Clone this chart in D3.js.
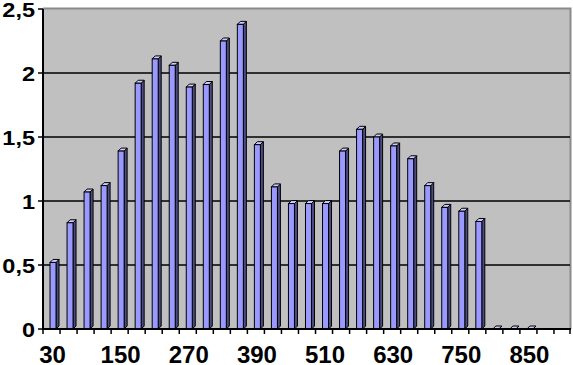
<!DOCTYPE html>
<script src="https://d3js.org/d3.v7.min.js"></script>
<style>
  body { margin: 0; background: #fff; }
  svg { display: block; }
</style>
<svg></svg>
<script>

    var width = 573;
    var height = 365;
    var margin = ({top: 9, right: 2, bottom: 36, left: 43});

    // category labels (x values) and bar heights
    var categories = ["30","60","90","120","150","180","210","240","270","300","330","360","390",
                      "420","450","480","510","540","570","600","630","660","690","720","750","780",
                      "800","825","850","875","900"];
    var values = [0.52, 0.83, 1.07, 1.12, 1.39, 1.92, 2.11, 2.06, 1.89, 1.91, 2.25, 2.38, 1.44,
                  1.11, 0.98, 0.98, 0.98, 1.39, 1.56, 1.50, 1.43, 1.33, 1.12, 0.95, 0.92, 0.84,
                  0, 0, 0, null, null];
    var shownLabels = ["30","150","270","390","510","630","750","850"];
    var yTicks = [0, 0.5, 1, 1.5, 2, 2.5];

    var data = categories.map((c, i) => ({cat: c, value: values[i]}));

    var x = d3.scaleBand()
        .domain(categories)
        .range([margin.left, width - margin.right]);

    var y = d3.scaleLinear()
        .domain([0, 2.5])
        .range([height - margin.bottom, margin.top]);

    var fmt = v => String(v).replace(".", ",");

    var svg = d3.select("svg")
        .attr("width", width)
        .attr("height", height)
        .style("font-family", "Arial, 'Liberation Sans', sans-serif");

    // plot background
    svg.append("rect")
        .attr("x", margin.left)
        .attr("y", margin.top)
        .attr("width", width - margin.right - margin.left)
        .attr("height", y(0) - margin.top)
        .attr("fill", "#c0c0c0");

    // top / right frame
    svg.append("path")
        .attr("d", `M${margin.left},${margin.top - 0.5}H${width - margin.right - 0.5}V${y(0)}`)
        .attr("fill", "none")
        .attr("stroke", "#8a8a8a")
        .attr("stroke-width", 2);

    // gridlines
    svg.append("g")
        .selectAll("line")
        .data(yTicks.filter(t => t > 0 && t < 2.5))
        .join("line")
        .attr("x1", margin.left)
        .attr("x2", width - margin.right - 1)
        .attr("y1", d => y(d))
        .attr("y2", d => y(d))
        .attr("stroke", "#000")
        .attr("stroke-width", 1.6);

    // 3d bars
    var bw = 6, dx = 3, dy = 3, off = 7;
    var bars = svg.append("g")
        .selectAll("g")
        .data(data.filter(d => d.value !== null))
        .join("g");

    bars.append("path")   // side
        .attr("d", d => {
            var x0 = x(d.cat) + off + bw, y0 = y(d.value), y1 = y(0);
            return `M${x0},${y0}L${x0 + dx},${y0 - dy}L${x0 + dx},${y1 - dy}L${x0},${y1}Z`;
        })
        .attr("fill", "#4c4c80")
        .attr("stroke", "#000")
        .attr("stroke-width", 1);

    bars.append("path")   // top
        .attr("d", d => {
            var x0 = x(d.cat) + off, y0 = y(d.value);
            return `M${x0},${y0}L${x0 + dx},${y0 - dy}L${x0 + bw + dx},${y0 - dy}L${x0 + bw},${y0}Z`;
        })
        .attr("fill", "#ccccff")
        .attr("stroke", "#000")
        .attr("stroke-width", 1);

    bars.filter(d => d.value > 0)
        .append("rect")   // front
        .attr("x", d => x(d.cat) + off)
        .attr("y", d => y(d.value))
        .attr("width", bw)
        .attr("height", d => y(0) - y(d.value))
        .attr("fill", "#9999ff")
        .attr("stroke", "#000")
        .attr("stroke-width", 1);

    // x axis
    var xAxis = svg.append("g")
        .attr("transform", `translate(0,${y(0)})`);

    xAxis.append("line")
        .attr("x1", margin.left)
        .attr("x2", width - margin.right)
        .attr("stroke", "#000")
        .attr("stroke-width", 2);

    xAxis.selectAll(".tk")
        .data(categories.map(c => x(c)).concat([x.range()[1] - 1]))
        .join("line")
        .attr("class", "tk")
        .attr("x1", d => d)
        .attr("x2", d => d)
        .attr("y1", 0)
        .attr("y2", 5)
        .attr("stroke", "#000")
        .attr("stroke-width", 1.5);

    xAxis.selectAll("text")
        .data(shownLabels)
        .join("text")
        .attr("x", d => x(d) + x.bandwidth() / 2 + 1)
        .attr("y", 34)
        .attr("text-anchor", "middle")
        .attr("font-size", 24)
        .attr("font-weight", "bold")
        .text(d => d);

    // y axis
    var yAxis = svg.append("g");

    yAxis.append("line")
        .attr("x1", margin.left)
        .attr("x2", margin.left)
        .attr("y1", margin.top)
        .attr("y2", y(0) + 1)
        .attr("stroke", "#000")
        .attr("stroke-width", 2);

    yAxis.selectAll(".tk")
        .data(yTicks)
        .join("line")
        .attr("class", "tk")
        .attr("x1", margin.left - 5)
        .attr("x2", margin.left)
        .attr("y1", d => y(d))
        .attr("y2", d => y(d))
        .attr("stroke", "#000")
        .attr("stroke-width", 1.5);

    yAxis.selectAll("text")
        .data(yTicks)
        .join("text")
        .attr("transform", d => `translate(${margin.left - 8},${y(d) + 8}) scale(1.12,1)`)
        .attr("text-anchor", "end")
        .attr("font-size", 21)
        .attr("font-weight", "bold")
        .text(d => fmt(d));

</script>
